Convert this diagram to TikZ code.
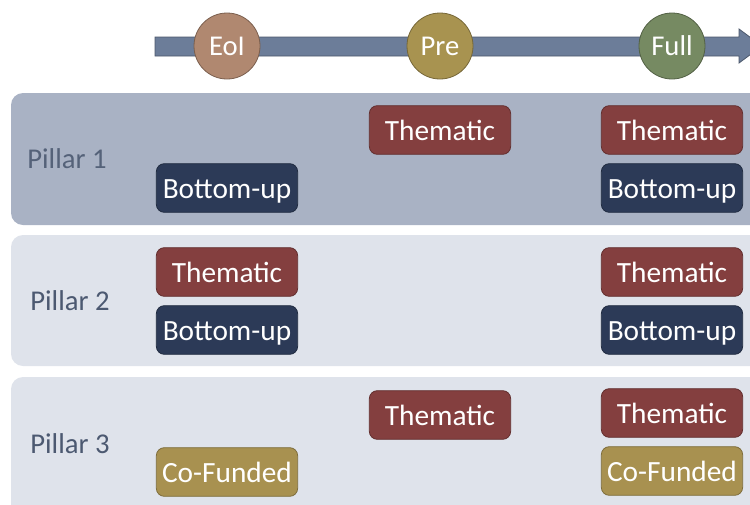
\documentclass[tikz,border=0pt]{standalone}
\usepackage{fontspec}
\setmainfont{Carlito}
\definecolor{themred}{RGB}{132,63,63}
\definecolor{botblue}{RGB}{44,58,87}
\definecolor{cofgold}{RGB}{168,145,80}
\definecolor{eoibrown}{RGB}{176,136,112}
\definecolor{pregold}{RGB}{168,147,80}
\definecolor{fullgreen}{RGB}{118,138,98}
\definecolor{arrowblue}{RGB}{108,125,153}
\definecolor{pillardark}{RGB}{169,178,196}
\definecolor{pillarlight}{RGB}{223,227,235}
\definecolor{pillartext}{RGB}{76,89,113}
\begin{document}
\begin{tikzpicture}[x=0.75pt,y=-0.75pt,
  panel/.style={rounded corners=9pt, fill=#1},
  plabel/.style={text=pillartext, font=\fontsize{21.5}{24}\selectfont},
  box/.style={rounded corners=6pt, minimum width=106pt, minimum height=36.5pt, inner sep=0pt,
    text height=15.5pt, text depth=0pt,
    fill=#1, draw=#1!75!black, line width=0.6pt, text=white, font=\fontsize{22}{26}\selectfont},
  stage/.style={circle, minimum size=49.5pt, inner sep=0pt, fill=#1, draw=#1!70!black,
    line width=0.6pt, text=white, font=\fontsize{21.5}{24}\selectfont}]
\clip (0,0) rectangle (750,504);

% timeline
\filldraw[fill=arrowblue, draw=arrowblue!70!black, line width=0.6pt]
  (155,37) -- (739,37) -- (739,29) -- (762,46) -- (739,63) -- (739,56) -- (155,56) -- cycle;
\node[stage=eoibrown] (eoi) at (227,46) {EoI};
\node[stage=pregold] (pre) at (440,46) {Pre};
\node[stage=fullgreen] (full) at (672,46) {Full};

% pillars
\fill[panel=pillardark] (11,93) rectangle (790,225);
\fill[panel=pillarlight] (11,235) rectangle (790,366);
\fill[panel=pillarlight] (11,377) rectangle (790,540);

\node[plabel, text=pillartext!90!pillardark] (p1) at (67,159) {Pillar 1};
\node[plabel] (p2) at (70,301) {Pillar 2};
\node[plabel] (p3) at (70,444) {Pillar 3};

% pillar 1
\node[box=themred] (t1pre) at (440,130) {Thematic};
\node[box=themred] (t1full) at (672,130) {Thematic};
\node[box=botblue] (b1eoi) at (227,188) {Bottom-up};
\node[box=botblue] (b1full) at (672,188) {Bottom-up};

% pillar 2
\node[box=themred] (t2eoi) at (227,272) {Thematic};
\node[box=botblue] (b2eoi) at (227,330) {Bottom-up};
\node[box=themred] (t2full) at (672,272) {Thematic};
\node[box=botblue] (b2full) at (672,330) {Bottom-up};

% pillar 3
\node[box=themred] (t3pre) at (440,415) {Thematic};
\node[box=cofgold] (c3eoi) at (227,472) {Co-Funded};
\node[box=themred] (t3full) at (672,413) {Thematic};
\node[box=cofgold] (c3full) at (672,471) {Co-Funded};
\end{tikzpicture}
\end{document}
